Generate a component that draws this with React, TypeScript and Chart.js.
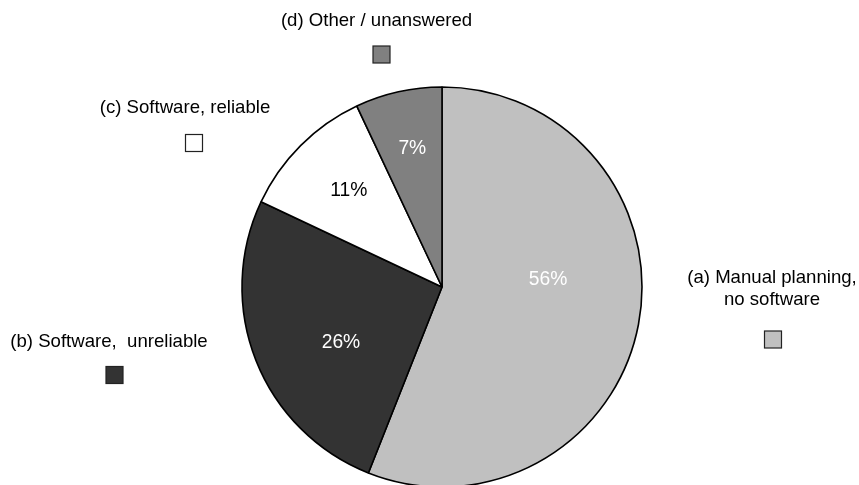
import React, { useEffect, useRef } from "react";
import { Chart, registerables } from "chart.js";

Chart.register(...registerables);

// ---- data ----
const categories = [
  ["(a) Manual planning,", "no software"],
  ["(b) Software,  unreliable"],
  ["(c) Software, reliable"],
  ["(d) Other / unanswered"],
];
const shares = [56, 26, 11, 7];
const percentLabels = ["56%", "26%", "11%", "7%"];

// ---- styles ----
const sliceColors = ["#C0C0C0", "#333333", "#FFFFFF", "#808080"];
const percentColors = ["#FFFFFF", "#FFFFFF", "#000000", "#FFFFFF"];
// label anchor: [angle in degrees clockwise from top, fraction of radius]
const percentPolar = [
  [88.9, 0.53],
  [238.9, 0.59],
  [314.2, 0.65],
  [347.4, 0.68],
];
// legend layout: text centre x, first baseline, box centre x, box centre y
const legendLayout = [
  [772, 283, 773, 339.5],
  [109, 347, 114.5, 375],
  [185, 113, 194, 143],
  [376.5, 25.5, 381.5, 54.5],
];
const FONT = '"Liberation Sans", Arial, Helvetica, sans-serif';

const overlayPlugin = {
  id: "overlay",
  afterDatasetsDraw(chart: any) {
    const ctx = chart.ctx;
    const meta = chart.getDatasetMeta(0);
    ctx.save();
    ctx.textAlign = "center";
    ctx.textBaseline = "alphabetic";
    ctx.font = `19.3px ${FONT}`;
    meta.data.forEach((arc: any, i: number) => {
      const [deg, frac] = percentPolar[i];
      const a = (deg * Math.PI) / 180;
      const R = arc.outerRadius;
      const px = arc.x + frac * R * Math.sin(a);
      const py = arc.y - frac * R * Math.cos(a);
      ctx.fillStyle = percentColors[i];
      ctx.fillText(percentLabels[i], px, py);
    });
    // legend
    ctx.font = `18.6px ${FONT}`;
    categories.forEach((lines, i) => {
      const [tx, ty, bx, by] = legendLayout[i];
      ctx.fillStyle = "#000000";
      lines.forEach((ln, j) => ctx.fillText(ln, tx, ty + j * 22));
      const s = 17;
      ctx.fillStyle = sliceColors[i];
      ctx.fillRect(bx - s / 2, by - s / 2, s, s);
      ctx.strokeStyle = "#222222";
      ctx.lineWidth = 1.2;
      ctx.strokeRect(bx - s / 2, by - s / 2, s, s);
    });
    ctx.restore();
  },
};

export default function App() {
  const ref = useRef<HTMLCanvasElement>(null);
  useEffect(() => {
    if (!ref.current) return;
    const chart = new Chart(ref.current, {
      type: "pie",
      data: {
        labels: categories.map((c) => c.join(" ")),
        datasets: [
          {
            data: shares,
            backgroundColor: sliceColors,
            borderColor: "#000000",
            borderWidth: 1.6,
            clip: false,
          } as any,
        ],
      },
      options: {
        responsive: false,
        animation: false,
        radius: 200,
        layout: { padding: { left: 25, top: 89, right: 0, bottom: 0 } },
        plugins: {
          legend: { display: false },
          tooltip: { enabled: false },
        },
      } as any,
      plugins: [overlayPlugin],
    });
    return () => chart.destroy();
  }, []);
  return (
    <div style={{ position: "absolute", left: 0, top: 0, width: 859, height: 485, background: "#fff" }}>
      <canvas ref={ref} width={859} height={485} style={{ width: 859, height: 485, display: "block" }} />
    </div>
  );
}
